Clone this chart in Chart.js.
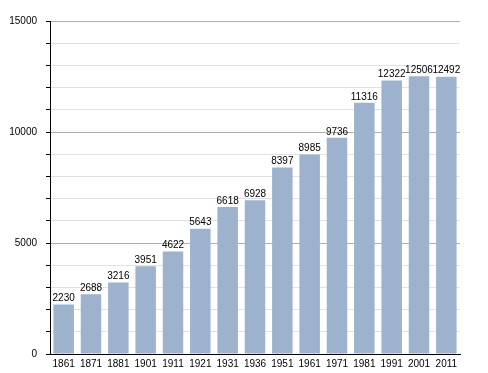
<!DOCTYPE html>
<html>
<head>
<meta charset="utf-8">
<script src="https://cdn.jsdelivr.net/npm/chart.js@4"></script>
<style>
  html, body { margin: 0; padding: 0; background: #fff; }
  #wrap { width: 488px; height: 373px; position: relative; }
</style>
</head>
<body>
<div id="wrap"><canvas id="chart"></canvas></div>
<script>
const years = ['1861', '1871', '1881', '1901', '1911', '1921', '1931', '1936', '1951', '1961', '1971', '1981', '1991', '2001', '2011'];
const population = [2230, 2688, 3216, 3951, 4622, 5643, 6618, 6928, 8397, 8985, 9736, 11316, 12322, 12506, 12492];

// valeurs au-dessus des barres
const barLabels = {
    id: 'barLabels',
    afterDatasetsDraw(chart) {
        const ctx = chart.ctx;
        const meta = chart.getDatasetMeta(0);
        ctx.save();
        ctx.font = '10px "Liberation Sans", Arial, sans-serif';
        ctx.fillStyle = '#000';
        ctx.textAlign = 'center';
        ctx.textBaseline = 'bottom';
        meta.data.forEach((bar, i) => {
            ctx.fillText(String(population[i]), bar.x, bar.y - 1);
        });
        ctx.restore();
    }
};

// léger dégradé horizontal sur chaque barre
function barColor(c) {
    const el = c.element;
    if (!el || !el.width) return '#9cb2cd';
    const x0 = el.x - el.width / 2;
    const g = c.chart.ctx.createLinearGradient(x0, 0, x0 + el.width, 0);
    g.addColorStop(0, '#a4bad4');
    g.addColorStop(1, '#97aeca');
    return g;
}

Chart.defaults.font.family = '"Liberation Sans", Arial, sans-serif';
Chart.defaults.font.size = 10;
Chart.defaults.color = '#000';

new Chart(document.getElementById('chart'), {
    type: 'bar',
    data: {
        labels: years,
        datasets: [{
            data: population,
            backgroundColor: barColor,
            borderWidth: 0,
            categoryPercentage: 1,
            barPercentage: 0.75
        }]
    },
    options: {
        responsive: true,
        maintainAspectRatio: false,
        animation: false,
        layout: { padding: { top: 21, right: 28, left: 0, bottom: 0 } },
        plugins: { legend: { display: false }, tooltip: { enabled: false } },
        scales: {
            x: {
                grid: { display: false, drawTicks: false },
                border: { color: '#000', width: 1 },
                ticks: { padding: 4, maxRotation: 0, autoSkip: false },
                afterFit: s => { s.height = 19; }
            },
            y: {
                min: 0,
                max: 15000,
                ticks: {
                    stepSize: 1000,
                    padding: 9,
                    callback: v => (v % 5000 === 0 ? v : '')
                },
                grid: {
                    color: c => (c.tick && c.tick.value % 5000 === 0 ? '#b0b0b0' : '#e2e2e2'),
                    tickColor: '#000',
                    tickLength: 4
                },
                border: { color: '#000', width: 1 },
                afterFit: s => { s.width = 50; }
            }
        }
    },
    plugins: [barLabels]
});
</script>
</body>
</html>
